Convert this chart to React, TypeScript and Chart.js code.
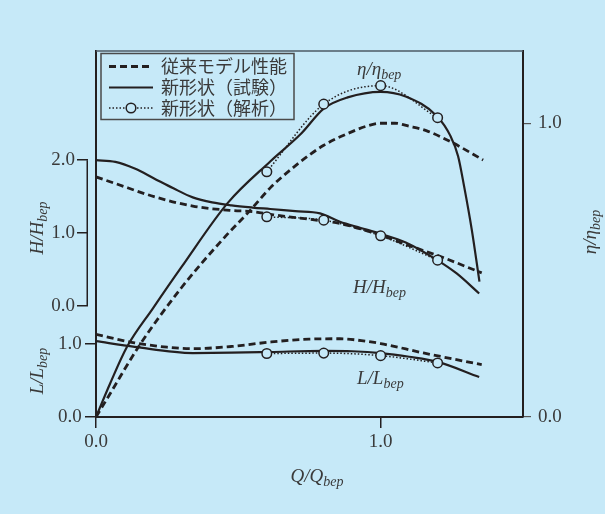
import React, { useEffect, useRef } from 'react';
import { Chart, registerables } from 'chart.js';

Chart.register(...registerables);

const BG = '#c6e9f8';
const INK = '#231f20';
const TXT = '#3a3a3a';
const SERIF = '"Liberation Serif", "DejaVu Serif", serif';
const CJK = '"Noto Sans CJK JP", "Noto Sans", sans-serif';

// tick values
const xTicks = [0, 1];
const hTicks = [0, 1, 2];
const lTicks = [0, 1];
const etaTicks = [0, 1];

const legendLabels = ['従来モデル性能', '新形状（試験）', '新形状（解析）'];

// 従来モデル性能 (dashed)
const convEtaQ = [0, 0.05, 0.15, 0.3, 0.45, 0.544, 0.612, 0.7, 0.8, 0.884, 0.95, 1.0, 1.05, 1.1, 1.16, 1.25, 1.36];
const convEta = [0, 0.08, 0.24, 0.44, 0.61, 0.706, 0.78, 0.855, 0.925, 0.965, 0.99, 1.0, 1.0, 0.99, 0.975, 0.935, 0.875];
const convHQ = [0, 0.068, 0.204, 0.34, 0.476, 0.55, 0.623, 0.748, 0.857, 1.0, 1.091, 1.208, 1.355];
const convH = [1.77, 1.68, 1.5, 1.37, 1.31, 1.295, 1.25, 1.19, 1.13, 0.97, 0.84, 0.68, 0.453];
const convLQ = [0, 0.136, 0.25, 0.34, 0.476, 0.612, 0.748, 0.857, 0.95, 1.0, 1.15, 1.355];
const convL = [1.124, 1.01, 0.95, 0.93, 0.96, 1.02, 1.06, 1.065, 1.03, 1.0, 0.872, 0.713];

// 新形状（試験） (solid)
const testEtaQ = [0, 0.05, 0.109, 0.2, 0.3, 0.463, 0.612, 0.721, 0.8, 0.884, 1.0, 1.088, 1.197, 1.245, 1.272, 1.293, 1.32, 1.347];
const testEta = [0, 0.115, 0.239, 0.37, 0.51, 0.729, 0.87, 0.965, 1.05, 1.088, 1.107, 1.091, 1.025, 0.957, 0.888, 0.786, 0.638, 0.461];
const testHQ = [0, 0.068, 0.136, 0.204, 0.272, 0.34, 0.408, 0.476, 0.55, 0.612, 0.7, 0.787, 0.857, 0.93, 1.0, 1.088, 1.2, 1.267, 1.346];
const testH = [2.0, 1.977, 1.886, 1.75, 1.614, 1.49, 1.42, 1.38, 1.35, 1.33, 1.3, 1.27, 1.154, 1.07, 0.99, 0.87, 0.625, 0.445, 0.17];
const testLQ = [0, 0.136, 0.34, 0.476, 0.612, 0.8, 0.9, 1.0, 1.1, 1.2, 1.346];
const testL = [1.032, 0.954, 0.87, 0.875, 0.885, 0.9, 0.895, 0.87, 0.82, 0.75, 0.545];

// 新形状（解析） (dotted + circles)
const anaQ = [0.6, 0.8, 1.0, 1.2];
const anaEta = [0.835, 1.065, 1.128, 1.019];
const anaH = [1.223, 1.177, 0.962, 0.628];
const anaL = [0.864, 0.87, 0.835, 0.736];

const pts = (xs: number[], ys: number[]) => xs.map((x, i) => ({ x, y: ys[i] }));

const DASH = [7, 4];
const DOT = [1.5, 2];

function subText(ctx: CanvasRenderingContext2D, x: number, y: number, main: string, sub: string,
  rot: number, align: 'left' | 'center', mainSize = 19, subSize = 14) {
  ctx.save();
  ctx.translate(x, y);
  if (rot) ctx.rotate(rot);
  ctx.fillStyle = TXT;
  ctx.textAlign = 'left';
  ctx.textBaseline = 'alphabetic';
  const mf = `italic ${mainSize}px ${SERIF}`;
  const sf = `italic ${subSize}px ${SERIF}`;
  ctx.font = mf;
  const w1 = ctx.measureText(main).width;
  ctx.font = sf;
  const w2 = ctx.measureText(sub).width;
  const sx = align === 'center' ? -(w1 + w2) / 2 : 0;
  ctx.font = mf;
  ctx.fillText(main, sx, 0);
  ctx.font = sf;
  ctx.fillText(sub, sx + w1, subSize * 0.32);
  ctx.restore();
}

const decorPlugin = {
  id: 'decor',
  afterDraw(chart: any) {
    const { ctx, chartArea, scales } = chart;
    ctx.save();
    // top frame
    ctx.strokeStyle = '#4d5a66';
    ctx.lineWidth = 1.5;
    ctx.beginPath();
    ctx.moveTo(chartArea.left, chartArea.top);
    ctx.lineTo(chartArea.right, chartArea.top);
    ctx.stroke();
    // H bracket axis
    const yH = scales.yH;
    ctx.strokeStyle = INK;
    ctx.lineWidth = 1.5;
    ctx.beginPath();
    ctx.moveTo(yH.right - 0.75, yH.getPixelForValue(hTicks[hTicks.length - 1]));
    ctx.lineTo(yH.right - 0.75, yH.getPixelForValue(hTicks[0]));
    ctx.stroke();
    ctx.restore();

    // axis titles
    subText(ctx, 43, 228, 'H/H', 'bep', -Math.PI / 2, 'center');
    subText(ctx, 43, 371, 'L/L', 'bep', -Math.PI / 2, 'center');
    subText(ctx, 596, 232, 'η/η', 'bep', -Math.PI / 2, 'center');
    subText(ctx, 317, 482, 'Q/Q', 'bep', 0, 'center');
    // curve labels
    subText(ctx, 357, 75, 'η/η', 'bep', 0, 'left');
    subText(ctx, 353, 293, 'H/H', 'bep', 0, 'left');
    subText(ctx, 357, 383.5, 'L/L', 'bep', 0, 'left');

    // legend
    ctx.save();
    const lx = 101, ly = 53.5, lw = 193, lh = 66;
    ctx.strokeStyle = '#4a4a4a';
    ctx.lineWidth = 1.5;
    ctx.strokeRect(lx, ly, lw, lh);
    const rows = [66.5, 87.5, 108];
    const ds = chart.data.datasets;
    legendLabels.forEach((lab, i) => {
      const d = ds[i * 3];
      const y = rows[i];
      ctx.strokeStyle = d.borderColor;
      ctx.lineWidth = d.borderWidth;
      ctx.setLineDash(d.borderDash || []);
      ctx.beginPath();
      ctx.moveTo(109, y);
      ctx.lineTo(153, y);
      ctx.stroke();
      ctx.setLineDash([]);
      if (d.pointRadius > 0) {
        ctx.fillStyle = d.pointBackgroundColor;
        ctx.strokeStyle = d.pointBorderColor;
        ctx.lineWidth = d.pointBorderWidth;
        ctx.beginPath();
        ctx.arc(131, y, d.pointRadius, 0, Math.PI * 2);
        ctx.fill();
        ctx.stroke();
      }
      ctx.fillStyle = TXT;
      ctx.font = `18px ${CJK}`;
      ctx.textAlign = 'left';
      ctx.textBaseline = 'middle';
      ctx.fillText(lab, 161, y);
    });
    ctx.restore();
  },
};

const lineBase = {
  borderColor: INK,
  pointRadius: 0,
  fill: false,
  cubicInterpolationMode: 'monotone' as const,
};

export default function App() {
  const ref = useRef<HTMLCanvasElement | null>(null);
  useEffect(() => {
    document.body.style.margin = '0';
    document.body.style.background = BG;
    const canvas = ref.current;
    if (!canvas) return;
    const conv = { ...lineBase, borderWidth: 2.8, borderDash: DASH, order: 2 };
    const test = { ...lineBase, borderWidth: 2.2, order: 1 };
    const ana = {
      ...lineBase, borderWidth: 1.5, borderDash: DOT, order: 0,
      pointRadius: 4.8, pointBackgroundColor: BG, pointBorderColor: INK, pointBorderWidth: 1.5,
    };
    const chart = new Chart(canvas, {
      type: 'line',
      data: {
        datasets: [
          { ...conv, label: legendLabels[0], data: pts(convEtaQ, convEta), yAxisID: 'yEta' },
          { ...conv, label: legendLabels[0], data: pts(convHQ, convH), yAxisID: 'yH' },
          { ...conv, label: legendLabels[0], data: pts(convLQ, convL), yAxisID: 'yL' },
          { ...test, label: legendLabels[1], data: pts(testEtaQ, testEta), yAxisID: 'yEta' },
          { ...test, label: legendLabels[1], data: pts(testHQ, testH), yAxisID: 'yH' },
          { ...test, label: legendLabels[1], data: pts(testLQ, testL), yAxisID: 'yL' },
          { ...ana, label: legendLabels[2], data: pts(anaQ, anaEta), yAxisID: 'yEta' },
          { ...ana, label: legendLabels[2], data: pts(anaQ, anaH), yAxisID: 'yH' },
          { ...ana, label: legendLabels[2], data: pts(anaQ, anaL), yAxisID: 'yL' },
        ] as any,
      },
      options: {
        animation: false,
        responsive: false,
        devicePixelRatio: 1,
        layout: { padding: { top: 51, left: 0, right: 0, bottom: 0 } },
        plugins: { legend: { display: false }, tooltip: { enabled: false } },
        events: [],
        scales: {
          x: {
            type: 'linear', position: 'bottom', min: 0, max: 1.5,
            afterBuildTicks: (s: any) => { s.ticks = xTicks.map((v) => ({ value: v })); },
            afterFit: (s: any) => { s.height = 514 - 417; },
            ticks: {
              callback: (v: any) => Number(v).toFixed(1), font: { family: SERIF, size: 19 },
              color: TXT, padding: 3, maxRotation: 0, autoSkip: false,
            },
            grid: { drawOnChartArea: false, drawTicks: true, tickLength: 11, color: INK, lineWidth: 1.5 },
            border: { display: true, color: INK, width: 2 },
          },
          yL: {
            type: 'linear', position: 'left', weight: 0, min: 0, max: 4.982,
            afterBuildTicks: (s: any) => { s.ticks = lTicks.map((v) => ({ value: v })); },
            afterFit: (s: any) => { s.width = 8; },
            // mirror avoids clipping the labels to this narrow axis box; negative padding puts them left of the ticks
            ticks: {
              callback: (v: any) => Number(v).toFixed(1), font: { family: SERIF, size: 19 }, color: TXT,
              mirror: true, crossAlign: 'far', padding: -38,
            },
            grid: { drawOnChartArea: false, drawTicks: true, tickLength: 11, color: INK, lineWidth: 1.5 },
            border: { display: true, color: INK, width: 2 },
          },
          yH: {
            type: 'linear', position: 'left', weight: 1, min: -1.5247, max: 3.4986,
            afterBuildTicks: (s: any) => { s.ticks = hTicks.map((v) => ({ value: v })); },
            afterFit: (s: any) => { s.width = 88; },
            ticks: { callback: (v: any) => Number(v).toFixed(1), font: { family: SERIF, size: 19 }, color: TXT, padding: 2 },
            grid: { drawOnChartArea: false, drawTicks: true, tickLength: 11, color: INK, lineWidth: 1.5 },
            border: { display: false },
          },
          yEta: {
            type: 'linear', position: 'right', min: 0, max: 1.246,
            afterBuildTicks: (s: any) => { s.ticks = etaTicks.map((v) => ({ value: v })); },
            afterFit: (s: any) => { s.width = 605 - 523; },
            ticks: { callback: (v: any) => Number(v).toFixed(1), font: { family: SERIF, size: 19 }, color: TXT, padding: 7 },
            grid: { drawOnChartArea: false, drawTicks: true, tickLength: 8, color: '#555', lineWidth: 1.2 },
            border: { display: true, color: INK, width: 2 },
          },
        },
      } as any,
      plugins: [decorPlugin],
    });
    return () => chart.destroy();
  }, []);
  return (
    <div style={{ width: 605, height: 514, background: BG }}>
      <canvas ref={ref} width={605} height={514} style={{ display: 'block' }} />
    </div>
  );
}
